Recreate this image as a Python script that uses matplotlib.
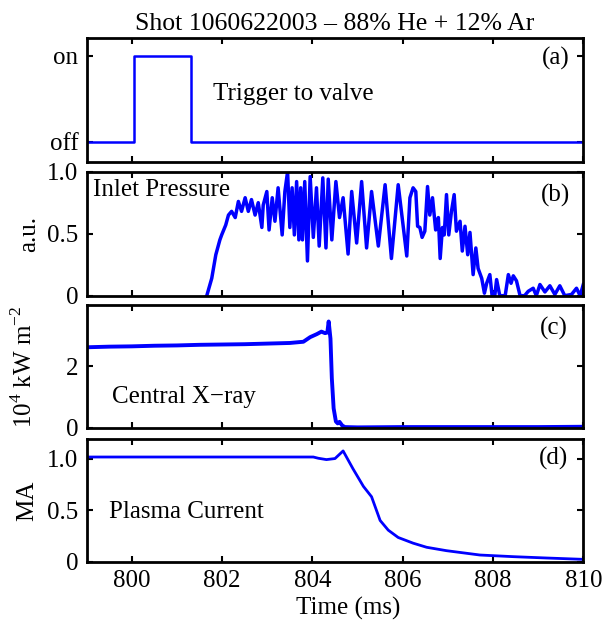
import matplotlib
matplotlib.use("Agg")
import matplotlib.pyplot as plt

plt.rcParams['font.family'] = ['Liberation Serif', 'DejaVu Serif']
plt.rcParams['mathtext.fontset'] = 'custom'
plt.rcParams['mathtext.rm'] = 'Liberation Serif'
plt.rcParams['font.size'] = 18

BLUE = (0, 0, 1)

# (a) trigger to valve
t_trig = [799.0, 800.04, 800.04, 801.31, 801.31, 810.0]
v_trig = [0, 0, 1, 1, 0, 0]

# (b) inlet pressure, a.u.
t_inlet = [801.62, 801.66, 801.77, 801.86, 801.95, 801.99, 802.08, 802.14, 802.21, 802.29,
           802.36, 802.43, 802.51, 802.58, 802.65, 802.73, 802.80, 802.88, 802.91, 802.99,
           803.04, 803.11, 803.17, 803.24, 803.33, 803.39, 803.45, 803.50, 803.55, 803.60,
           803.65, 803.70, 803.74, 803.78, 803.83, 803.89, 803.95, 804.02, 804.09, 804.15,
           804.23, 804.30, 804.35, 804.43, 804.52, 804.60, 804.68, 804.79, 804.87, 804.98,
           805.09, 805.20, 805.31, 805.46, 805.61, 805.75, 805.90, 806.09, 806.16, 806.23,
           806.29, 806.33, 806.38, 806.43, 806.49, 806.55, 806.60, 806.66, 806.73, 806.79,
           806.83, 806.88, 806.92, 806.97, 807.02, 807.08, 807.14, 807.19, 807.27, 807.32,
           807.38, 807.44, 807.49, 807.56, 807.62, 807.67, 807.75, 807.81, 807.86, 807.93,
           807.98, 808.04, 808.08, 808.15, 808.27, 808.34, 808.40, 808.45, 808.52, 808.60,
           808.70, 808.78, 808.89, 808.96, 809.04, 809.15, 809.26, 809.37, 809.48, 809.59,
           809.74, 809.85, 809.93, 810.0]
v_inlet = [-0.02, 0.0, 0.14, 0.33, 0.45, 0.49, 0.57, 0.65, 0.68, 0.63,
           0.76, 0.68, 0.79, 0.68, 0.775, 0.65, 0.75, 0.55, 0.73, 0.84,
           0.53, 0.79, 0.60, 0.87, 0.49, 0.84, 1.0, 0.55, 0.87, 0.49,
           0.92, 0.45, 0.87, 0.45, 0.92, 0.28, 0.96, 0.47, 0.87, 0.40,
           0.95, 0.385, 0.94, 0.45, 0.92, 0.63, 0.79, 0.336, 0.84, 0.425,
           0.92, 0.385, 0.84, 0.40, 0.895, 0.30, 0.895, 0.32, 0.79, 0.87,
           0.84, 0.56, 0.55, 0.47, 0.52, 0.88, 0.65, 0.79, 0.53, 0.63,
           0.30, 0.55, 0.49, 0.815, 0.49, 0.68, 0.815, 0.52, 0.60, 0.36,
           0.56, 0.33, 0.51, 0.17, 0.385, 0.22, 0.14, 0.02, 0.10, 0.17,
           0.0, 0.0, 0.13, 0.0, 0.0, 0.17, 0.10, 0.16, 0.12, 0.0,
           0.0, 0.035, 0.06, 0.0, 0.09, 0.03, 0.08, 0.01, 0.08, 0.0,
           0.01, 0.06, 0.0, 0.09]

# (c) central X-ray, 10^4 kW m^-2
t_xray = [799.0, 799.5, 800.0, 800.5, 801.0, 801.5, 802.0, 802.5, 803.0, 803.5,
          803.8, 803.95, 804.1, 804.2, 804.28, 804.33, 804.36, 804.40, 804.43, 804.47,
          804.52, 804.56, 804.60, 804.66, 804.72, 805.0, 806.0, 807.0, 808.0, 809.0, 810.0]
v_xray = [2.62, 2.64, 2.65, 2.67, 2.68, 2.70, 2.71, 2.72, 2.74, 2.76,
          2.80, 2.95, 3.05, 3.13, 3.08, 3.10, 3.46, 2.9, 1.61, 0.63,
          0.20, 0.14, 0.19, 0.07, 0.02, 0.01, 0.02, 0.02, 0.02, 0.02, 0.03]

# (d) plasma current, MA
t_ip = [799.0, 804.02, 804.13, 804.31, 804.50, 804.68, 804.90, 805.13, 805.31, 805.50,
        805.68, 805.90, 806.23, 806.53, 806.97, 807.71, 808.45, 809.19, 810.0]
v_ip = [1.015, 1.015, 1.003, 0.99, 1.0, 1.074, 0.90, 0.73, 0.63, 0.40,
        0.306, 0.235, 0.18, 0.14, 0.107, 0.065, 0.049, 0.036, 0.023]

xticks = [800, 802, 804, 806, 808, 810]

fig = plt.figure(figsize=(6.05, 6.2), dpi=100)
L, W = 0.1433, 0.8208
ax_a = fig.add_axes([L, 0.7392, W, 0.199])
ax_b = fig.add_axes([L, 0.5231, W, 0.200])
ax_c = fig.add_axes([L, 0.3102, W, 0.198])
ax_d = fig.add_axes([L, 0.0940, W, 0.198])

for ax in (ax_a, ax_b, ax_c, ax_d):
    ax.set_xlim(799, 810)
    ax.set_xticks(xticks)
    ax.tick_params(direction='in', top=True, right=True, length=4, width=1.5, pad=6)
    for s in ax.spines.values():
        s.set_linewidth(2.0)

ax_a.plot(t_trig, v_trig, color=BLUE, lw=1.8)
ax_a.set_ylim(-0.23, 1.2)
ax_a.set_yticks([0, 1])
ax_a.set_yticklabels(['off', 'on'])
ax_a.set_xticklabels([])
ax_a.text(0.254, 0.5, 'Trigger to valve', transform=ax_a.transAxes, va='baseline')
ax_a.text(0.973, 0.838, '(a)', transform=ax_a.transAxes, ha='right', va='center')
ax_a.set_title('Shot 1060622003 \u2013 88% He + 12% Ar', fontsize=18.5, pad=6)

ax_b.plot(t_inlet, v_inlet, color=BLUE, lw=2.5)
ax_b.set_ylim(0, 1)
ax_b.set_yticks([0, 0.5, 1])
ax_b.set_yticklabels(['0', '0.5', '1.0'])
ax_b.set_xticklabels([])
ax_b.set_ylabel('a.u.', va='center')
ax_b.yaxis.set_label_coords(-0.116, 0.5)
ax_b.text(0.012, 0.80, 'Inlet Pressure', transform=ax_b.transAxes, va='baseline')
ax_b.text(0.973, 0.81, '(b)', transform=ax_b.transAxes, ha='right', va='center')

ax_c.plot(t_xray, v_xray, color=BLUE, lw=2.8)
ax_c.set_ylim(0, 4)
ax_c.set_yticks([0, 2])
ax_c.set_yticklabels(['0', '2'])
ax_c.set_xticklabels([])
ax_c.set_ylabel('$10^4$ kW m$^{-2}$', va='center')
ax_c.yaxis.set_label_coords(-0.126, 0.5)
ax_c.text(0.05, 0.20, 'Central X\u2212ray', transform=ax_c.transAxes, va='baseline')
ax_c.text(0.969, 0.81, '(c)', transform=ax_c.transAxes, ha='right', va='center')

ax_d.plot(t_ip, v_ip, color=BLUE, lw=2.0)
ax_d.set_ylim(0, 1.19)
ax_d.set_yticks([0, 0.5, 1])
ax_d.set_yticklabels(['0', '0.5', '1.0'])
ax_d.set_ylabel('MA', va='center')
ax_d.yaxis.set_label_coords(-0.12, 0.5)
ax_d.set_xlabel('Time (ms)', va='baseline')
ax_d.xaxis.set_label_coords(0.526, -0.43)
ax_d.text(0.0455, 0.354, 'Plasma Current', transform=ax_d.transAxes, va='baseline')
ax_d.text(0.969, 0.843, '(d)', transform=ax_d.transAxes, ha='right', va='center')

fig.savefig('out.png', dpi=100)
